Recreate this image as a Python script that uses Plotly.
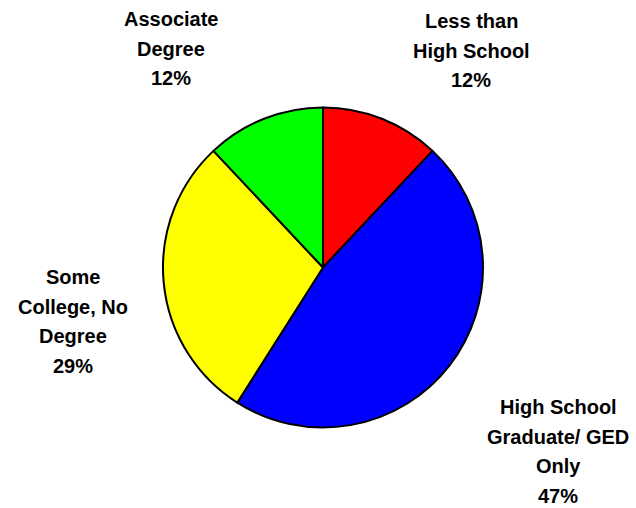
import plotly.graph_objects as go

categories = ["Less than\nHigh School", "High School\nGraduate/ GED\nOnly", "Some\nCollege, No\nDegree", "Associate\nDegree"]
values = [12, 47, 29, 12]
colors = ["#FF0000", "#0000FF", "#FFFF00", "#00FF00"]

W, H = 636, 508

# label block positions in pixels: center x, first line center y
label_pos = [(471, 21), (558, 407), (73, 277), (171, 19)]
line_gap = 29.5

def px(x):
    return x / W

def py(y):
    return 1 - y / H

fig = go.Figure(go.Pie(
    values=values,
    labels=[c.replace("\n", " ") for c in categories],
    marker=dict(colors=colors, line=dict(color="black", width=2)),
    sort=False,
    direction="clockwise",
    rotation=0,
    textinfo="none",
    hoverinfo="label+percent",
    domain=dict(x=[px(163), px(483)], y=[py(428), py(107)]),
    showlegend=False,
))

annotations = []
total = sum(values)
for cat, v, (cx, cy) in zip(categories, values, label_pos):
    lines = cat.split("\n") + [f"{round(100 * v / total)}%"]
    for i, ln in enumerate(lines):
        annotations.append(dict(
            x=px(cx), y=py(cy + i * line_gap), xref="paper", yref="paper",
            text=ln, showarrow=False, xanchor="center", yanchor="middle",
            font=dict(family="Arial, Liberation Sans, sans-serif", size=20, color="black", weight="bold"),
        ))

fig.update_layout(
    width=W, height=H,
    margin=dict(l=0, r=0, t=0, b=0),
    paper_bgcolor="white", plot_bgcolor="white",
    annotations=annotations,
)

fig.write_html(
    "out.html",
    config={"displayModeBar": False},
    post_script="document.body.style.margin='0';document.body.style.overflow='hidden';",
)
